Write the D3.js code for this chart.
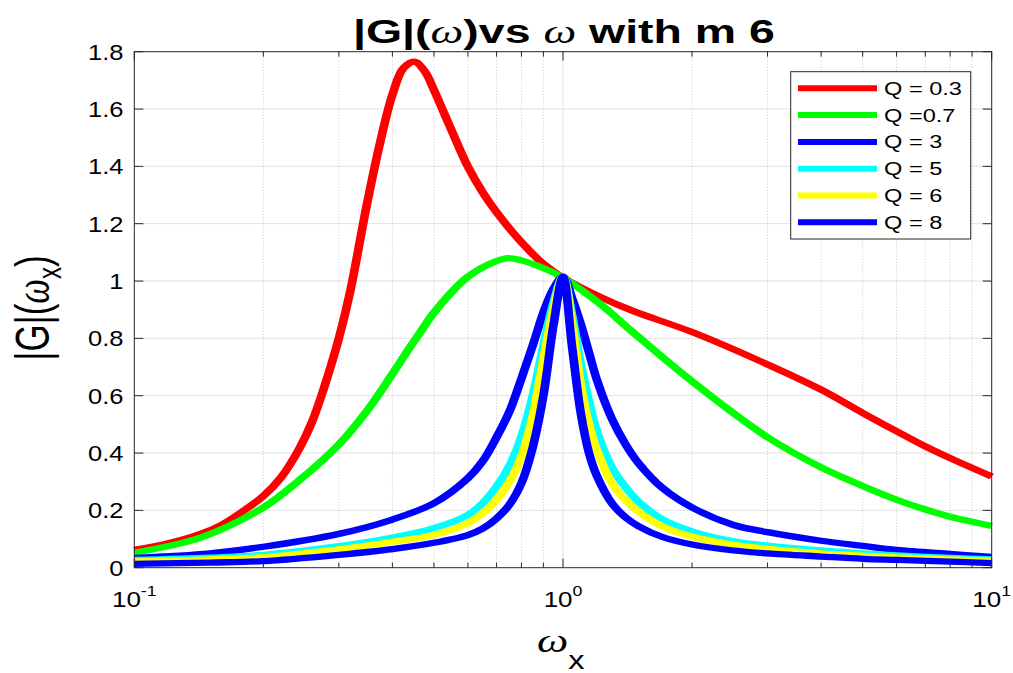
<!DOCTYPE html>
<html><head><meta charset="utf-8">
<script src="https://cdn.jsdelivr.net/npm/d3@7"></script>
<style>
body{margin:0;background:#fff}
svg{display:block}
text{font-family:"Liberation Sans",Arial,Helvetica,sans-serif;fill:#000}
</style>
</head><body>
<svg id="c" width="1013" height="673"></svg>
<script>
// ---------- data ----------
const freqQ03 = [0.1,0.12,0.1423,0.16,0.1765,0.2,0.22,0.2435,0.26,0.276,0.3,0.3185,0.348,0.374,0.4,0.4243,0.45,0.4766,0.5,0.545,0.6,0.652,0.7,0.8,0.9,1.0,1.22,1.46,2,3,4,5,6,7,8,10];
const gainQ03 = [0.062,0.085,0.117,0.15,0.19,0.25,0.315,0.42,0.51,0.62,0.8,0.96,1.26,1.48,1.65,1.742,1.765,1.73,1.666,1.538,1.399,1.306,1.24,1.135,1.06,1.012,0.945,0.895,0.822,0.709,0.621,0.54,0.476,0.423,0.382,0.318];

const freqQ07 = [0.1,0.1423,0.2,0.2435,0.3,0.348,0.4,0.44,0.464,0.5,0.6,0.7,0.746,0.8,0.9,1.0,1.22,1.46,2,3,4,5,6,7,8,10];
const gainQ07 = [0.052,0.104,0.21,0.307,0.43,0.545,0.676,0.77,0.82,0.89,1.015,1.07,1.08,1.072,1.045,1.012,0.92,0.82,0.65,0.455,0.35,0.285,0.237,0.203,0.178,0.146];

const freqNarrow = [0.1,0.15,0.2,0.3,0.4,0.5,0.6,0.65,0.7,0.75,0.8,0.85,0.9,0.95,1.0,1.05,1.1,1.15,1.2,1.3,1.4,1.5,1.7,2.0,2.5,3,4,5,6,8,10];
const gainQ3 = [0.034,0.05,0.073,0.118,0.168,0.225,0.312,0.372,0.455,0.545,0.66,0.775,0.89,0.972,1.015,0.94,0.85,0.75,0.655,0.52,0.43,0.365,0.28,0.21,0.149,0.124,0.094,0.076,0.062,0.048,0.038];
const gainQ5 = [0.027,0.035,0.045,0.075,0.105,0.138,0.184,0.225,0.283,0.355,0.458,0.6,0.773,0.924,1.015,0.88,0.71,0.58,0.475,0.35,0.28,0.23,0.17,0.127,0.092,0.077,0.06,0.05,0.043,0.034,0.029];
const gainQ6 = [0.022,0.029,0.037,0.064,0.09,0.114,0.155,0.19,0.237,0.3,0.388,0.53,0.726,0.9,1.015,0.85,0.64,0.5,0.41,0.295,0.235,0.195,0.145,0.108,0.08,0.066,0.05,0.042,0.036,0.029,0.024];
const gainQ8 = [0.013,0.018,0.023,0.045,0.065,0.087,0.114,0.137,0.172,0.22,0.295,0.42,0.6,0.845,1.015,0.77,0.54,0.4,0.32,0.225,0.175,0.145,0.108,0.081,0.06,0.05,0.039,0.031,0.027,0.021,0.016];

const legendLabels = ["Q = 0.3","Q =0.7","Q = 3","Q = 5","Q = 6","Q = 8"];
const yTickValues = [0,0.2,0.4,0.6,0.8,1.0,1.2,1.4,1.6,1.8];
const yTickLabels = ["0","0.2","0.4","0.6","0.8","1","1.2","1.4","1.6","1.8"];
const xTickValues = [0.1,1,10];
const xTickExponents = ["-1","0","1"];

// ---------- styles ----------
const seriesColors = ["#ff0000","#00ff00","#0000ff","#00ffff","#ffff00","#0000ff"];

const series = [
  {f:freqQ03, g:gainQ03},
  {f:freqQ07, g:gainQ07},
  {f:freqNarrow, g:gainQ3},
  {f:freqNarrow, g:gainQ5},
  {f:freqNarrow, g:gainQ6},
  {f:freqNarrow, g:gainQ8}
].map((s,i)=>({pts:s.f.map((v,j)=>[v,s.g[j]]), color:seriesColors[i], label:legendLabels[i]}));

const W=1013,H=673;
const SX=1.38; // horizontal stretch of the original rendering
const M={l:134.3,r:991.7,t:51.7,b:567.7};
const x=d3.scaleLog().domain([0.1,10]).range([M.l,M.r]);
const xc=d3.scaleLog().domain([0.1,10]).range([M.l/SX,M.r/SX]); // compressed, drawn inside scale(SX,1)
const y=d3.scaleLinear().domain([0,1.8]).range([M.b,M.t]);
const svg=d3.select('#c');
svg.append('rect').attr('width',W).attr('height',H).attr('fill','#fff');

// grid
const allX = x.ticks();
const isMajor = v => Math.abs(Math.log10(v)-Math.round(Math.log10(v)))<1e-9;
const grid = svg.append('g');
grid.selectAll('line.h').data(yTickValues.filter(v=>v>0&&v<1.8)).join('line')
  .attr('x1',M.l).attr('x2',M.r).attr('y1',d=>y(d)).attr('y2',d=>y(d))
  .attr('stroke','#e2e2e2').attr('stroke-width',1);
grid.selectAll('line.vmin').data(allX.filter(v=>!isMajor(v))).join('line')
  .attr('x1',d=>x(d)).attr('x2',d=>x(d)).attr('y1',M.t).attr('y2',M.b)
  .attr('stroke','#c8c8c8').attr('stroke-width',1).attr('stroke-dasharray','1,2');
grid.selectAll('line.vmaj').data([1]).join('line')
  .attr('x1',d=>x(d)).attr('x2',d=>x(d)).attr('y1',M.t).attr('y2',M.b)
  .attr('stroke','#e2e2e2').attr('stroke-width',1);

// curves
const line=d3.line().x(d=>xc(d[0])).y(d=>y(d[1])).curve(d3.curveCatmullRom.alpha(0.5));
svg.append('g').attr('transform',`scale(${SX},1)`)
  .selectAll('path').data(series).join('path')
  .attr('d',d=>line(d.pts)).attr('fill','none').attr('stroke',d=>d.color)
  .attr('stroke-width',6.3).attr('stroke-linejoin','round');

// axes box and ticks
const ax=svg.append('g').attr('stroke','#262626').attr('stroke-width',1);
ax.append('rect').attr('x',M.l).attr('y',M.t).attr('width',M.r-M.l).attr('height',M.b-M.t).attr('fill','none');
yTickValues.forEach(v=>{
  ax.append('line').attr('x1',M.l).attr('x2',M.l+9).attr('y1',y(v)).attr('y2',y(v));
  ax.append('line').attr('x1',M.r-9).attr('x2',M.r).attr('y1',y(v)).attr('y2',y(v));
});
allX.forEach(v=>{
  const L=isMajor(v)?9:5;
  ax.append('line').attr('x1',x(v)).attr('x2',x(v)).attr('y1',M.b).attr('y2',M.b-L);
  ax.append('line').attr('x1',x(v)).attr('x2',x(v)).attr('y1',M.t).attr('y2',M.t+L);
});

// y tick labels
yTickValues.forEach((v,i)=>{
  svg.append('text').attr('transform',`translate(123.5,${y(v)}) scale(1.16,1)`)
    .attr('text-anchor','end').attr('dy','0.36em').attr('font-size',22)
    .attr('fill','#262626').text(yTickLabels[i]);
});
// x tick labels
xTickValues.forEach((v,i)=>{
  const t=svg.append('text').attr('transform',`translate(${x(v)},607) scale(1.18,1)`)
    .attr('text-anchor','middle').attr('font-size',22).attr('fill','#262626');
  t.append('tspan').text('10');
  t.append('tspan').attr('dy',-11).attr('font-size',15).text(xTickExponents[i]);
});

// title
const title=svg.append('text').attr('font-size',34).attr('font-weight','bold');
title.append('tspan').text('|G|(');
title.append('tspan').attr('font-family','"Liberation Serif",serif').attr('font-style','italic').attr('font-weight','normal').text('ω');
title.append('tspan').text(')vs ');
title.append('tspan').attr('font-family','"Liberation Serif",serif').attr('font-style','italic').attr('font-weight','normal').text('ω');
title.append('tspan').text(' with m 6');
{
  const w=title.node().getComputedTextLength();
  title.attr('transform',`translate(353,43) scale(${422/w},1)`);
}

// y label
const yl=svg.append('text').attr('font-size',35).attr('text-anchor','middle')
  .attr('transform','translate(49,308) scale(1.38,1) rotate(-90)');
yl.append('tspan').text('|G|(');
yl.append('tspan').attr('font-family','"Liberation Serif",serif').attr('font-style','italic').text('ω');
yl.append('tspan').attr('font-size',24).attr('dy',9).text('x');
yl.append('tspan').attr('dy',-9).text(')');

// x label
const xl=svg.append('text').attr('font-size',34).attr('transform','translate(537,652) scale(1.3,1)');
xl.append('tspan').attr('font-family','"Liberation Serif",serif').attr('font-style','italic').text('ω');
xl.append('tspan').attr('font-size',25).attr('dy',17).text('x');

// legend
const lg=svg.append('g');
lg.append('rect').attr('x',790.7).attr('y',71.7).attr('width',180).attr('height',167.3)
  .attr('fill','#fff').attr('stroke','#262626').attr('stroke-width',1);
let legScale=null;
series.forEach((s,i)=>{
  const ry=88.3+26.8*i;
  lg.append('line').attr('x1',798).attr('x2',877).attr('y1',ry).attr('y2',ry)
    .attr('stroke',s.color).attr('stroke-width',6);
  const t=lg.append('text').attr('dy','0.36em').attr('font-size',18).text(s.label);
  if(legScale===null) legScale=78/t.node().getComputedTextLength();
  t.attr('transform',`translate(884,${ry}) scale(${legScale},1)`);
});
</script>
</body></html>
